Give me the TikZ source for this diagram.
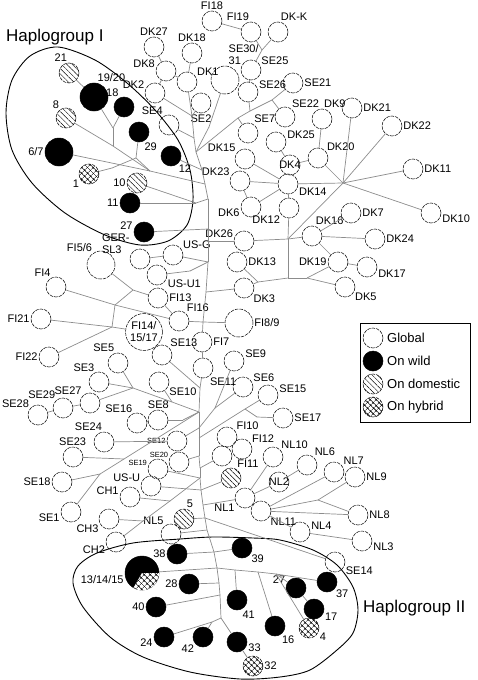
\documentclass[tikz,border=0pt]{standalone}
\usepackage{fontspec}
\setmainfont{Liberation Sans}
\usetikzlibrary{patterns.meta}

\tikzset{
  hap/.style={circle, draw, line width=0.5pt, dash pattern=on 3.5pt off 1pt, minimum size=20pt, inner sep=0pt},
  big/.style={minimum size=28pt},
  wild/.style={hap, fill=black, solid},
  dom/.style={hap, pattern={Lines[angle=-45,distance=3.8pt,line width=0.5pt]}},
  hyb/.style={hap, pattern={Hatch[angle=45,distance=4pt,line width=0.45pt]}},
  lbl/.style={font=\fontsize{11}{12}\selectfont, inner sep=1pt},
  tiny/.style={font=\fontsize{7.5}{8}\selectfont, inner sep=1pt},
  lgt/.style={font=\fontsize{13}{15}\selectfont, inner sep=1pt, anchor=west},
  hg/.style={font=\fontsize{17}{20}\selectfont, inner sep=0pt, anchor=west},
  link/.style={draw=black!45, line width=0.7pt},
}

\begin{document}
\begin{tikzpicture}[x=1pt, y=-1pt]
\useasboundingbox (0,0) rectangle (477,680);

% haplogroup outlines
\draw[line width=0.9pt] plot[smooth cycle] coordinates {(58,47) (95,60) (127,83) (155,110) (178,140) (190,170) (193,200) (187,225) (168,241) (140,245) (105,235) (65,213) (32,183) (12,150) (6,113) (12,80) (30,56)};
\draw[line width=0.9pt] plot[smooth cycle] coordinates {(97,553) (133,543) (180,539) (213,537) (253,538) (280,540) (313,550) (337,565) (353,587) (358,610) (353,633) (337,650) (310,670) (280,677) (240,679) (190,672) (143,657) (110,637) (83,607) (73,583) (78,566)};
\node[hg] (hg1) at (6,37) {Haplogroup I};
\node[hg] (hg2) at (363,608) {Haplogroup II};

% top part
\node[hap, label={[lbl]90:FI18}] (fi18) at (212,21) {};
\node[hap, label={[lbl]95:FI19}] (fi19) at (251,32) {};
\node[hap, label={[lbl]80:DK-K}] (dkk) at (278,32) {};
\node[hap, label={[lbl]90:DK27}] (dk27) at (154,47) {};
\node[hap, label={[lbl]90:DK18}] (dk18) at (192,53) {};
\node[hap, label={[lbl]170:DK8}] (dk8) at (166,71) {};
\node[hap, label={[lbl]30:DK1}] (dk1) at (187,82) {};
\node[hap, big, label={[lbl, align=left]80:{SE30/\\31}}] (se3031) at (225,80) {};
\node[hap, label={[lbl]160:DK2}] (dk2) at (155,93) {};
\node[hap, label={[lbl]120:SE4}] (se4) at (169,125) {};
\node[hap, label={[lbl]-90:SE2}] (se2) at (201,103) {};
\node[hap, label={[lbl]25:SE25}] (se25) at (251,70) {};
\node[hap, label={[lbl]15:SE26}] (se26) at (248,92) {};
\node[hap, label={[lbl]0:SE21}] (se21) at (293,83) {};
\node[hap, label={[lbl]55:SE22}] (se22) at (285,117) {};
\node[hap, label={[lbl]60:SE7}] (se7) at (248,133) {};

% DK group
\node[hap, label={[lbl]85:DK9}] (dk9) at (322,119) {};
\node[hap, label={[lbl]0:DK21}] (dk21) at (352,108) {};
\node[hap, label={[lbl]0:DK22}] (dk22) at (392,126) {};
\node[hap, label={[lbl]10:DK25}] (dk25) at (276,142) {};
\node[hap, label={[lbl]40:DK20}] (dk20) at (318,158) {};
\node[hap, label={[lbl]center:DK4}] (dk4) at (290,165) {};
\node[hap, label={[lbl]-15:DK14}] (dk14) at (288,184) {};
\node[hap, label={[lbl]0:DK11}] (dk11) at (413,169) {};
\node[hap, label={[lbl]-5:DK10}] (dk10) at (431,213) {};
\node[hap, label={[lbl]0:DK7}] (dk7) at (351,213) {};
\node[hap, label={[lbl]75:DK16}] (dk16) at (312,236) {};
\node[hap, label={[lbl]220:DK12}] (dk12) at (289,208) {};
\node[hap, label={[lbl]145:DK15}] (dk15) at (245,159) {};
\node[hap, label={[lbl]155:DK23}] (dk23) at (240,181) {};
\node[hap, label={[lbl]185:DK6}] (dk6) at (251,207) {};
\node[hap, label={[lbl]165:DK26}] (dk26) at (244,241) {};
\node[hap, label={[lbl]0:DK13}] (dk13) at (237,262) {};
\node[hap, label={[lbl]-35:DK3}] (dk3) at (244,288) {};
\node[hap, label={[lbl]0:DK24}] (dk24) at (375,239) {};
\node[hap, label={[lbl]180:DK19}] (dk19) at (338,262) {};
\node[hap, label={[lbl]-10:DK17}] (dk17) at (367,267) {};
\node[hap, label={[lbl]-30:DK5}] (dk5) at (345,287) {};

% FI and US group
\node[hap, big, label={[lbl]0:FI8/9}] (fi89) at (239,323) {};
\node[hap, label={[lbl]0:FI7}] (fi7) at (202,342) {};
\node[hap, label={[lbl]50:FI16}] (fi16) at (179,321) {};
\node[hap, label={[lbl]0:FI13}] (fi13) at (158,298) {};
\node[hap, label={[lbl]-20:US-U1}] (usu1) at (157,275) {};
\node[hap, label={[lbl]30:US-G}] (usg) at (173,255) {};
\node[hap, label={[lbl, align=left]155:{GER-\\SL3}}] (gersl3) at (140,259) {};
\node[hap, big, label={[lbl]123:FI5/6}] (fi56) at (101,265) {};
\node[hap, label={[lbl]115:FI4}] (fi4) at (56,287) {};
\node[hap, label={[lbl]180:FI21}] (fi21) at (41,319) {};
\node[hap, label={[lbl]180:FI22}] (fi22) at (49,357) {};
\node[hap, lbl, minimum size=32pt, align=center] (fi141517) at (144,332) {FI14/\\15/17};

% SE group, left
\node[hap, label={[lbl]45:SE13}] (se13) at (162,355) {};
\node[hap, label={[lbl]105:SE5}] (se5) at (118,363) {};
\node[hap, label={[lbl]110:SE3}] (se3) at (99,382) {};
\node[hap, label={[lbl]-25:SE10}] (se10) at (159,382) {};
\node[hap, label={[lbl]135:SE27}] (se27) at (90,403) {};
\node[hap, label={[lbl]130:SE29}] (se29) at (63,408) {};
\node[hap, label={[lbl]140:SE28}] (se28) at (38,415) {};
\node[hap, label={[lbl]110:SE16}] (se16) at (137,423) {};
\node[hap, label={[lbl]88:SE8}] (se8) at (158,420) {};
\node[hap, label={[lbl]95:SE24}] (se24) at (104,442) {};
\node[hap, label={[lbl]92:SE23}] (se23) at (73,457) {};
\node[hap, label={[tiny]180:SE12}] (se12) at (177,441) {};
\node[hap, label={[tiny]160:SE20}] (se20) at (179,462) {};
\node[hap, label={[tiny]165:SE19}] (se19) at (158,469) {};
\node[hap, label={[lbl]160:US-U}] (usu) at (151,486) {};
\node[hap, label={[lbl]175:CH1}] (ch1) at (130,497) {};
\node[hap, label={[lbl]180:SE18}] (se18) at (62,482) {};
\node[hap, label={[lbl]185:SE1}] (se1) at (71,512) {};
\node[hap, label={[lbl]205:CH3}] (ch3) at (109,519) {};
\node[hap, label={[lbl]195:CH2}] (ch2) at (116,542) {};
\node[hap, label={[lbl]128:NL5}] (nl5) at (171,534) {};
\node[dom, label={[lbl]80:5}] (h5) at (184,519) {};

% SE, FI and NL group, right
\node[hap, label={[lbl]-55:SE11}] (se11) at (203,368) {};
\node[hap, label={[lbl]10:SE9}] (se9) at (234,361) {};
\node[hap, label={[lbl]25:SE6}] (se6) at (243,387) {};
\node[hap, label={[lbl]5:SE15}] (se15) at (268,395) {};
\node[hap, label={[lbl]0:SE17}] (se17) at (283,418) {};
\node[hap, label={[lbl]35:FI10}] (fi10) at (227,437) {};
\node[hap, label={[lbl]30:FI12}] (fi12) at (242,449) {};
\node[hap] (fix) at (222,456) {};
\node[dom, label={[lbl]60:FI11}] (fi11) at (231,478) {};
\node[hap, label={[lbl]45:NL10}] (nl10) at (273,457) {};
\node[hap, label={[lbl]center:NL2}] (nl2) at (279,482) {};
\node[hap, label={[lbl]50:NL6}] (nl6) at (307,465) {};
\node[hap, label={[lbl]35:NL7}] (nl7) at (334,472) {};
\node[hap, label={[lbl]0:NL9}] (nl9) at (355,477) {};
\node[hap, label={[lbl]205:NL1}] (nl1) at (245,498) {};
\node[hap, label={[lbl]-35:NL11}] (nl11) at (261,511) {};
\node[hap, label={[lbl]0:NL8}] (nl8) at (358,515) {};
\node[hap, label={[lbl]10:NL4}] (nl4) at (300,532) {};
\node[hap, label={[lbl]-5:NL3}] (nl3) at (362,541) {};
\node[hap, label={[lbl]-20:SE14}] (se14) at (335,562) {};

% haplogroup I
\node[dom, label={[lbl]95:21}] (h21) at (69,73) {};
\node[wild, big, label={[lbl]80:19/20}] (h1920) at (94,97) {};
\node[wild, label={[lbl]115:18}] (h18) at (124,107) {};
\node[dom, label={[lbl]125:8}] (h8) at (66,118) {};
\node[wild, label={[lbl]-65:29}] (h29) at (139,132) {};
\node[wild, big, label={[lbl]180:6/7}] (h67) at (59,152) {};
\node[wild, label={[lbl]-50:12}] (h12) at (171,156) {};
\node[hyb, label={[lbl]210:1}] (h1) at (89,174) {};
\node[dom, label={[lbl]180:10}] (h10) at (137,183) {};
\node[wild, label={[lbl]180:11}] (h11) at (130,203) {};
\node[wild, label={[lbl]175:27}] (h27a) at (144,232) {};

% haplogroup II
\node[wild, label={[lbl]180:38}] (h38) at (177,554) {};
\node[wild, minimum size=34pt, label={[lbl]185:13/14/15}] (h131415) at (142,573) {};
\node[wild, label={[lbl]180:28}] (h28) at (189,584) {};
\node[wild, label={[lbl]180:40}] (h40) at (156,607) {};
\node[wild, label={[lbl]185:24}] (h24) at (164,637) {};
\node[wild, label={[lbl]220:42}] (h42) at (203,637) {};
\node[wild, label={[lbl]-35:39}] (h39) at (242,548) {};
\node[wild, label={[lbl]-65:41}] (h41) at (237,600) {};
\node[wild, label={[lbl]160:27}] (h27b) at (296,588) {};
\node[wild, label={[lbl]-40:37}] (h37) at (327,582) {};
\node[wild, label={[lbl]-15:17}] (h17) at (314,609) {};
\node[hyb, label={[lbl]-20:4}] (h4) at (309,628) {};
\node[wild, label={[lbl]-55:16}] (h16) at (275,626) {};
\node[wild, label={[lbl]-5:33}] (h33) at (237,642) {};
\node[hyb, label={[lbl]0:32}] (h32) at (253,666) {};
\fill[white] (h131415.center) foreach \a in {0,-15,...,-120} { -- (h131415.\a) } -- cycle;
\fill[pattern={Hatch[angle=45,distance=4pt,line width=0.45pt]}] (h131415.center) foreach \a in {0,-15,...,-120} { -- (h131415.\a) } -- cycle;

% junctions
\coordinate (t1) at (192,116);
\coordinate (t2) at (194,138);
\coordinate (t3) at (196,152);
\coordinate (t4) at (202,170);
\coordinate (t5) at (205,184);
\coordinate (t6) at (208,199);
\coordinate (t7) at (208,229);
\coordinate (t8) at (208,241);
\coordinate (t9) at (208,262);
\coordinate (t10) at (206,292);
\coordinate (t11) at (203,322);
\coordinate (t12) at (200,388);
\coordinate (t13) at (199,412);
\coordinate (t14) at (199,428);
\coordinate (t15) at (199,438);
\coordinate (t16) at (199,456);
\coordinate (t17) at (200,468);
\coordinate (t18) at (200,478);
\coordinate (t19) at (201,490);
\coordinate (t20) at (203,505);
\coordinate (t21) at (205,518);
\coordinate (t22) at (207,530);
\coordinate (t23) at (214,552);
\coordinate (t24) at (217,568);
\coordinate (t25) at (219,583);
\coordinate (t25b) at (220,595);
\coordinate (t26) at (221,618);
\coordinate (j1) at (262,50);
\coordinate (jd1) at (272,100);
\coordinate (jd2) at (250,111);
\coordinate (jd3) at (238,118);
\coordinate (js) at (209,127);
\coordinate (ja) at (113,128);
\coordinate (jb) at (113,146);
\coordinate (jc) at (150,171);
\coordinate (jd) at (136,158);
\coordinate (jg) at (112,168);
\coordinate (jh) at (196,203);
\coordinate (hub) at (343,183);
\coordinate (jj) at (288,239);
\coordinate (jh2) at (288,278);
\coordinate (jg2) at (258,282);
\coordinate (ji) at (307,278);
\coordinate (jk) at (190,271);
\coordinate (jm) at (133,290);
\coordinate (jl) at (115,305);
\coordinate (jn) at (112,327);
\coordinate (jo) at (133,388);
\coordinate (jo2) at (172,402);
\coordinate (jq) at (183,420);
\coordinate (js1) at (100,474);
\coordinate (js2) at (124,459);
\coordinate (ju) at (143,521);
\coordinate (jt) at (170,501);
\coordinate (jp) at (215,408);
\coordinate (jq2) at (257,417);
\coordinate (jq3) at (245,409);
\coordinate (jr) at (318,500);
\coordinate (jw) at (258,572);
\coordinate (jx) at (276,574);
\coordinate (jy) at (235,570);
\coordinate (jv2) at (212,622);

% connectors
\foreach \a/\b in {fi18/fi19, fi19/j1, dkk/j1, j1/se25, se25/se26,
  dk27/dk8, dk18/dk1, dk8/dk1, dk8/dk2, dk2/t1, se2/t1, se4/t2,
  dk1/t1, t1/t2, t2/t3, t3/t4, t4/t5, t5/t6, t6/t7, t7/t8, t8/t9, t9/t10, t10/t11,
  t11/fi7, fi7/se11, se11/t12, t12/t13, t13/t14, t14/t15, t15/t16, t16/t17, t17/t18,
  t18/t19, t19/t20, t20/t21, t21/t22, t22/t23, t23/t24, t24/t25, t25/t25b, t25b/t26,
  t26/h33, h33/h32,
  se21/jd1, jd1/jd2, jd2/jd3, jd3/t3, se26/jd2, se22/jd1, se7/jd3, se3031/js, js/t3,
  h21/h1920, h1920/ja, h18/ja, ja/jb, h8/jb, jb/jc, h67/jc, h29/jd, jd/jg, h1/jg, jd/jc,
  jc/t5, h12/t4, h10/jh, h11/jh, jh/t6, h27a/t7,
  dk26/t8, dk26/jj, jj/dk16, dk16/dk24, dk12/jj, hub/jj, jj/jh2, dk14/dk12,
  dk15/dk14, dk23/dk14, dk6/dk14, dk23/dk6, dk25/dk4, dk4/dk14, dk4/dk20, dk9/dk20,
  dk20/hub, dk14/hub, hub/dk21, hub/dk22, hub/dk11, hub/dk10, dk16/dk7, dk16/dk19,
  dk19/dk17, dk3/t10, dk3/jg2, dk13/jg2, jg2/jh2, jh2/ji, ji/dk19, ji/dk5,
  usg/t9, gersl3/usg, usu1/jk, jk/t9, fi13/fi16, fi56/jm, jm/fi13, fi4/jl, jl/fi16,
  jm/jl, jl/jn, fi21/jn, fi22/jn, jn/fi141517, fi16/t11, t11/fi89,
  se13/t12, se5/jo, se3/jo, se27/jo, se29/se27, se28/se29, jo/jo2, jo2/t13, se10/jo2,
  se16/se8, se8/jq, jq/t13, se24/se12, se12/t14,
  se1/js1, se18/js1, js1/js2, se23/js2, js2/t13,
  se20/t16, se19/t18, usu/t19, ch1/jt, ju/jt, jt/t18, ch2/ju, ch3/ju,
  h5/t21, nl5/t22, se9/jp, se6/jp, jp/t14, se15/jq3, jq3/t15, se17/jq2, jq2/jq3,
  fi10/fi12, fi10/fix, fix/t17, fi11/t19, nl1/t20, nl1/nl11, nl1/nl2, nl2/nl6,
  nl10/nl1, nl11/nl7, nl11/jr, jr/nl9, jr/nl8, nl11/nl8, nl11/nl4, nl4/nl3, se14/t21,
  h38/t23, t23/h39, h131415/t24, t24/jy, jy/jw, jw/jx, jx/h37, jw/h16, jx/h4,
  jx/h27b, h27b/h17, h41/jy, h28/t25, h40/t25b, h24/jv2, h42/jv2, jv2/t26}
  \draw[link] (\a) -- (\b);

% legend
\draw[line width=0.7pt] (360,323) rectangle (470,422);
\node[hap] (lg1) at (373,338) {};
\node[wild] (lg2) at (373,361) {};
\node[dom] (lg3) at (373,384) {};
\node[hyb] (lg4) at (373,407) {};
\node[lgt] (lt1) at (386,338) {Global};
\node[lgt] (lt2) at (386,361) {On wild};
\node[lgt] (lt3) at (386,384) {On domestic};
\node[lgt] (lt4) at (386,407) {On hybrid};
\end{tikzpicture}
\end{document}
